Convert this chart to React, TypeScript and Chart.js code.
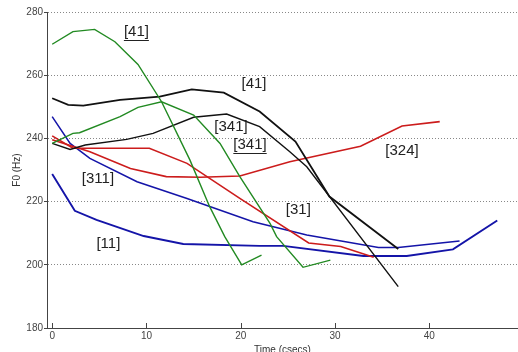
import React, { useEffect, useRef } from "react";
import { Chart, registerables } from "chart.js";

Chart.register(...registerables);

const xTickValues = [0, 10, 20, 30, 40];

const green41X = [0, 2.2, 4.5, 6.65, 9.1, 11.6, 14.6, 16.7, 18.3, 20.1, 22.2];
const green41Y = [269.8, 273.8, 274.5, 270.6, 263.4, 251.6, 233.2, 218.4, 208.9, 200, 203.1];

const green341X = [0, 2.2, 2.9, 7.2, 9.1, 11.6, 15, 17.8, 19.9, 23.1, 23.8, 26.6, 29.5];
const green341Y = [238.4, 241.6, 241.8, 246.9, 249.8, 251.6, 247.4, 238.4, 227.9, 213.1, 208.9, 199.2, 201.5];

const black41X = [0, 1.7, 3.3, 7.2, 11.4, 14.8, 18.2, 22, 25.8, 29.4, 36.7];
const black41Y = [252.7, 250.6, 250.4, 252.2, 253.2, 255.5, 254.5, 248.5, 239, 221.6, 205];

const black341X = [0, 1.9, 3.5, 7.9, 10.7, 15, 18.5, 22, 25.2, 27, 36.7];
const black341Y = [238.4, 236.5, 237.9, 239.7, 241.6, 246.7, 247.7, 243.7, 235.8, 231, 193.1];

const red31X = [0, 2.2, 10.3, 14.3, 19.9, 27.2, 30.6, 34.1];
const red31Y = [240.8, 236.9, 236.9, 232.1, 221, 206.9, 205.8, 202.4];

const red324X = [0, 4.0, 8.3, 12.1, 15.7, 19.9, 25.2, 32.7, 37.1, 41.1];
const red324Y = [239.6, 235.8, 230.5, 227.9, 227.7, 228.1, 232.6, 237.5, 243.9, 245.3];

const blue311X = [0, 1.9, 4.0, 9.0, 14.3, 21.3, 27, 34.6, 36.7, 43.2];
const blue311Y = [246.9, 238.4, 233.7, 226.3, 221, 213.6, 209.4, 205.5, 205.5, 207.5];

const blue11X = [0, 2.4, 4.7, 9.7, 13.9, 22, 24.5, 33, 37.6, 42.5, 47.2];
const blue11Y = [228.7, 217.1, 214.2, 209.1, 206.6, 206, 206, 202.8, 202.8, 204.9, 214];

const noteTexts = ["[41]", "[41]", "[341]", "[341]", "[324]", "[311]", "[31]", "[11]"];
const noteX = [8.93, 21.4, 18.96, 20.98, 37.1, 4.85, 26.1, 5.96];
const noteY = [273.7, 257.2, 243.6, 237.9, 236.0, 227.3, 217.5, 206.6];
const noteUnderlined = [true, false, false, true, false, false, false, false];

const pts = (xs: number[], ys: number[]) => xs.map((x, i) => ({ x, y: ys[i] }));

const GREEN = "#228a22";
const BLUE = "#1414a8";
const RED = "#cc1c1c";
const BLACK = "#111111";

const series = [
  { d: pts(green41X, green41Y), c: GREEN, w: 1.4 },
  { d: pts(green341X, green341Y), c: GREEN, w: 1.4 },
  { d: pts(black41X, black41Y), c: BLACK, w: 1.8 },
  { d: pts(black341X, black341Y), c: BLACK, w: 1.4 },
  { d: pts(red31X, red31Y), c: RED, w: 1.6 },
  { d: pts(red324X, red324Y), c: RED, w: 1.6 },
  { d: pts(blue311X, blue311Y), c: BLUE, w: 1.5 },
  { d: pts(blue11X, blue11Y), c: BLUE, w: 1.9 },
];

const decorPlugin = {
  id: "decor",
  afterDraw(chart: any) {
    const ctx = chart.ctx;
    const xs = chart.scales.x;
    const ys = chart.scales.y;
    const area = chart.chartArea;
    ctx.save();
    // inward x ticks
    ctx.strokeStyle = "#444";
    ctx.lineWidth = 1;
    xTickValues.forEach((v) => {
      const px = Math.round(xs.getPixelForValue(v)) + 0.5;
      ctx.beginPath();
      ctx.moveTo(px, area.bottom);
      ctx.lineTo(px, area.bottom - 5);
      ctx.stroke();
    });
    // annotations
    ctx.fillStyle = "#222";
    ctx.font = "15px 'Liberation Sans', Arial, sans-serif";
    ctx.textAlign = "center";
    ctx.textBaseline = "middle";
    noteTexts.forEach((t, i) => {
      const px = xs.getPixelForValue(noteX[i]);
      const py = ys.getPixelForValue(noteY[i]);
      ctx.fillText(t, px, py);
      if (noteUnderlined[i]) {
        const w = ctx.measureText(t).width;
        ctx.beginPath();
        ctx.strokeStyle = "#222";
        ctx.lineWidth = 1;
        ctx.moveTo(px - w / 2, Math.round(py + 8) + 0.5);
        ctx.lineTo(px + w / 2, Math.round(py + 8) + 0.5);
        ctx.stroke();
      }
    });
    // axis titles
    ctx.fillStyle = "#333";
    ctx.font = "10px 'Liberation Sans', Arial, sans-serif";
    ctx.textAlign = "center";
    ctx.textBaseline = "alphabetic";
    ctx.fillText("Time (csecs)", (area.left + area.right) / 2, 353);
    ctx.translate(17, (area.top + area.bottom) / 2);
    ctx.rotate(-Math.PI / 2);
    ctx.textBaseline = "middle";
    ctx.fillText("F0 (Hz)", 0, 0);
    ctx.restore();
  },
};

export default function App() {
  const ref = useRef<HTMLCanvasElement | null>(null);
  useEffect(() => {
    if (!ref.current) return;
    const chart = new Chart(ref.current, {
      type: "scatter",
      data: {
        datasets: series.map((s) => ({
          data: s.d,
          showLine: true,
          borderColor: s.c,
          backgroundColor: s.c,
          borderWidth: s.w,
          pointRadius: 0,
          tension: 0,
          fill: false,
        })),
      },
      options: {
        animation: false,
        responsive: false,
        devicePixelRatio: 1,
        layout: { padding: { top: 12, right: 0, left: 0, bottom: 0 } },
        plugins: { legend: { display: false }, tooltip: { enabled: false } },
        scales: {
          x: {
            type: "linear",
            min: -0.55,
            max: 49.4,
            afterBuildTicks: (scale: any) => {
              scale.ticks = xTickValues.map((v) => ({ value: v }));
            },
            afterFit: (scale: any) => {
              scale.height = 24;
            },
            grid: { display: false, drawTicks: false },
            border: { display: true, color: "#444", width: 1 },
            ticks: {
              padding: 2,
              color: "#444",
              font: { size: 10, family: "'Liberation Sans', Arial, sans-serif" },
              maxRotation: 0,
            },
          },
          y: {
            type: "linear",
            min: 180,
            max: 280,
            afterFit: (scale: any) => {
              scale.width = 47;
            },
            grid: {
              color: "#888",
              lineWidth: 1,
              drawTicks: true,
              tickLength: 3,
              tickColor: "#444",
              tickBorderDash: [],
            },
            border: { display: true, color: "#444", width: 1, dash: [1, 2] },
            ticks: {
              stepSize: 20,
              padding: 1,
              color: "#444",
              font: { size: 10, family: "'Liberation Sans', Arial, sans-serif" },
            },
          },
        },
      },
      plugins: [decorPlugin],
    });
    return () => chart.destroy();
  }, []);
  return (
    <div style={{ position: "absolute", left: 0, top: 0, width: 518, height: 352, background: "#fff" }}>
      <canvas ref={ref} width={518} height={352} style={{ display: "block" }} />
    </div>
  );
}
